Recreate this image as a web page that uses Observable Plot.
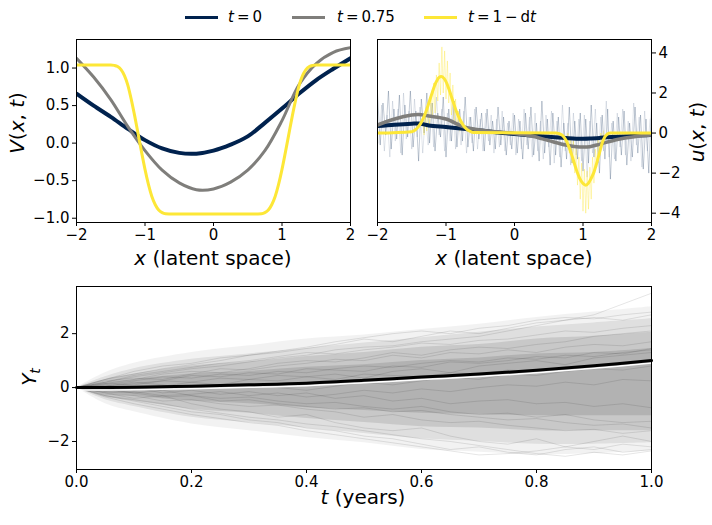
<!DOCTYPE html>
<html><head><meta charset="utf-8">
<script src="https://cdn.jsdelivr.net/npm/d3@7"></script>
<script src="https://cdn.jsdelivr.net/npm/@observablehq/plot@0.6"></script>
<style>
body{margin:0;background:#fff;font-family:"DejaVu Sans",sans-serif;}
#wrap{position:relative;width:712px;height:525px;overflow:hidden;background:#fff;}
.abs{position:absolute;}
.lbl{position:absolute;font-size:20px;line-height:1;white-space:nowrap;color:#000;transform:translate(-50%,-50%);}
.rot{transform:translate(-50%,-50%) rotate(-90deg);}
.leg{position:absolute;top:8px;font-size:15px;line-height:18px;white-space:nowrap;color:#000;}
.sw{position:absolute;height:3px;top:16px;}
</style></head><body><div id="wrap"></div>
<script>
// ---------- data ----------
const colT0 = "#00224e", colT75 = "#7f7e7b", colT1 = "#fde737";
const legendLabels = ["<i>t</i>\u2009=\u20090", "<i>t</i>\u2009=\u20090.75", "<i>t</i>\u2009=\u20091\u2009−\u2009d<i>t</i>"];

// V(x,t) panel
const vX   = [-2,-1.75,-1.5,-1.25,-1,-0.75,-0.5,-0.25,0,0.25,0.5,0.75,1,1.25,1.5,1.75,2];
const v0   = [0.66,0.50,0.35,0.19,0.04,-0.07,-0.13,-0.14,-0.10,-0.02,0.09,0.27,0.46,0.66,0.84,0.99,1.13];
const v75  = [1.13,0.88,0.58,0.22,-0.10,-0.36,-0.53,-0.62,-0.61,-0.52,-0.36,-0.10,0.30,0.78,1.06,1.21,1.27];
const v1X  = [-2,-1.5,-1.45,-1.4,-1.35,-1.3,-1.25,-1.2,-1.15,-1.1,-1.05,-1,-0.95,-0.9,-0.85,-0.8,-0.75,-0.7,-0.6,
              0.6,0.7,0.75,0.8,0.85,0.9,0.95,1,1.05,1.1,1.15,1.2,1.25,1.3,1.35,1.4,1.45,1.5,2];
const v1   = [1.04,1.04,1.035,1.02,0.98,0.90,0.77,0.58,0.36,0.12,-0.12,-0.35,-0.55,-0.71,-0.82,-0.89,-0.925,-0.94,-0.945,
              -0.945,-0.94,-0.925,-0.89,-0.82,-0.71,-0.55,-0.35,-0.12,0.12,0.36,0.58,0.77,0.90,0.98,1.02,1.035,1.04,1.04];

// u(x,t) panel – smooth curves
const uX   = [-2,-1.75,-1.5,-1.4,-1.25,-1,-0.75,-0.5,-0.25,0,0.25,0.5,0.75,0.9,1,1.1,1.25,1.5,1.75,2];
const u0   = [0.35,0.42,0.47,0.48,0.38,0.30,0.22,0.13,0.03,-0.05,-0.12,-0.19,-0.25,-0.28,-0.28,-0.27,-0.24,-0.18,-0.13,-0.10];
const u75  = [0.40,0.70,0.90,0.93,0.85,0.70,0.32,0.15,0.06,-0.02,-0.15,-0.38,-0.60,-0.68,-0.70,-0.68,-0.55,-0.32,-0.18,-0.10];
const u1X  = [-2,-1.5,-1.45,-1.4,-1.35,-1.3,-1.25,-1.2,-1.15,-1.1,-1.07,-1.03,-1,-0.95,-0.9,-0.85,-0.8,-0.75,-0.7,-0.65,-0.6,
              0.6,0.65,0.7,0.75,0.8,0.85,0.9,0.95,1,1.04,1.08,1.12,1.16,1.2,1.24,1.28,1.32,1.36,1.4,2];
const u1   = [0,0.07,0.15,0.33,0.6,1.0,1.5,2.03,2.5,2.78,2.82,2.73,2.57,2.12,1.6,1.1,0.7,0.4,0.2,0.09,0.03,
              0,-0.03,-0.12,-0.35,-0.75,-1.25,-1.8,-2.25,-2.52,-2.6,-2.5,-2.25,-1.95,-1.5,-1.0,-0.5,-0.18,-0.04,0,0];
// u(x,t) panel – noisy estimates
const u0Noise = [2.0,-0.6,1.5,-0.1,2.1,-0.8,1.2,-0.3,1.9,-1.1,
  1.4,-0.2,2.1,-0.7,1.1,-1.4,1.7,0.0,2.0,-0.5,
  1.5,-0.9,1.0,-0.2,1.8,-1.2,1.2,-0.4,1.6,-0.7,
  1.2,-0.4,1.8,-0.7,0.8,-0.9,1.3,-0.3,1.0,-0.9,
  1.2,-0.6,0.6,-0.8,1.3,-0.6,0.8,-1.1,0.6,-0.8,
  0.9,-1.0,0.6,-1.3,1.0,-0.8,1.3,-1.1,0.5,-1.4,
  1.6,-1.0,0.7,-1.6,1.0,-1.1,0.8,-1.7,0.5,-1.3,
  1.3,-1.5,0.6,-1.3,1.0,-1.9,0.7,-1.5,1.4,-1.2,
  0.5,-2.0,0.9,-1.3,1.2,-2.3,0.6,-1.4,0.8,-1.1,
  1.1,-1.6,0.5,-1.2,1.3,-1.0,0.9,-1.8,0.7,-2.0,1.3];
const u75Noise = [-0.5,1.4,-0.9,0.9,-1.2,1.6,-0.4,1.2,-1.0,2.0,
  -0.3,1.1,-0.8,1.7,-0.2,1.3,-1.0,0.9,-0.6,1.5,
  -0.7,1.8,-0.1,1.2,-0.9,1.0,-0.4,1.5,-0.8,0.9,
  -0.6,1.1,-1.0,0.8,-0.5,1.2,-0.8,0.7,-0.9,1.0,
  -0.4,0.9,-1.0,0.7,-0.7,1.1,-0.9,0.5,-0.6,1.0,
  -1.1,0.7,-0.8,1.2,-0.6,0.8,-1.2,1.0,-0.9,0.6,
  -1.3,0.9,-0.7,1.1,-1.5,0.6,-1.2,1.4,-0.9,0.5,
  -1.6,1.0,-1.1,0.7,-1.4,0.9,-2.2,0.6,-1.0,1.2,
  -1.5,0.8,-0.9,1.6,-1.2,0.5,-1.3,1.0,-0.7,1.2,
  -1.1,0.6,-1.4,1.5,-0.6,0.8,-1.7,1.1,-0.9,0.7];
const u1NoisePeak = [0.5,-0.1,0.9,0.1,1.4,0.4,1.8,0.8,2.5,1.0,2.9,1.6,3.5,1.9,4.3,2.0,4.1,1.7,3.6,1.5,3.0,0.9,2.4,0.6,1.7,0.2,1.1,0.1];
const u1NoiseDip  = [-0.6,0.0,-1.0,-0.2,-1.5,-0.4,-2.0,-0.8,-2.6,-1.2,-3.3,-1.5,-3.9,-1.8,-4.0,-1.9,-3.8,-1.7,-3.3,-1.2,-2.5,-0.8,-1.7,-0.3,-1.0,0.0,-0.5,0.1];

// Y_t panel: envelopes of the sample paths (outer to inner)
const bandT = [0,0.05,0.1,0.2,0.3,0.4,0.5,0.6,0.7,0.8,0.9,1.0];
const b1Hi = [0,0.55,0.9,1.3,1.55,1.8,1.95,2.15,2.35,2.6,2.8,3.0];
const b1Lo = [0,-0.6,-0.9,-1.35,-1.6,-1.85,-2.05,-2.3,-2.4,-2.5,-2.45,-2.35];
const b2Hi = [0,0.4,0.7,1.05,1.25,1.45,1.65,1.85,2.05,2.25,2.4,2.55];
const b2Lo = [0,-0.45,-0.7,-1.1,-1.3,-1.5,-1.7,-1.9,-2.0,-2.1,-2.1,-2.05];
const b3Hi = [0,0.3,0.5,0.8,0.95,1.15,1.3,1.5,1.6,1.8,1.9,2.05];
const b3Lo = [0,-0.35,-0.5,-0.8,-0.95,-1.15,-1.3,-1.45,-1.5,-1.6,-1.6,-1.6];
const b4Hi = [0,0.18,0.3,0.5,0.6,0.75,0.85,1.0,1.1,1.25,1.3,1.45];
const b4Lo = [0,-0.22,-0.32,-0.5,-0.6,-0.75,-0.85,-0.95,-1.0,-1.05,-1.05,-1.05];
const meanT = [0,0.1,0.2,0.3,0.4,0.5,0.6,0.7,0.8,0.9,1.0];
const meanY = [0,0.01,0.05,0.10,0.16,0.27,0.39,0.50,0.64,0.81,1.0];
const pathT = [0,0.05,0.1,0.15,0.2,0.25,0.3,0.35,0.4,0.45,0.5,0.55,0.6,0.65,0.7,0.75,0.8,0.85,0.9,0.95,1.0];
const pathsY = [
 [0,0.2,0.4,0.55,0.7,0.8,0.95,1.1,1.2,1.4,1.5,1.55,1.7,1.8,1.9,2.1,2.3,2.5,2.7,3.1,3.5],
 [0,0.3,0.6,0.8,0.9,1.1,1.2,1.3,1.45,1.6,1.8,1.7,1.9,2.1,2.0,2.2,2.4,2.5,2.6,2.5,2.7],
 [0,-0.3,-0.5,-0.7,-0.9,-1.0,-1.2,-1.3,-1.5,-1.6,-1.8,-1.9,-2.1,-2.3,-2.2,-2.4,-2.5,-2.3,-2.2,-2.4,-2.3],
 [0,-0.2,-0.4,-0.3,-0.6,-0.8,-0.9,-1.1,-1.0,-1.3,-1.5,-1.6,-1.5,-1.8,-2.0,-2.1,-1.9,-2.2,-2.0,-1.8,-2.0],
 [0,0.15,0.3,0.5,0.6,0.55,0.7,0.9,1.0,0.95,1.1,1.3,1.2,1.4,1.5,1.45,1.6,1.7,1.9,2.0,2.1],
 [0,0.1,-0.1,0.05,0.2,0.1,0.3,0.25,0.4,0.5,0.35,0.6,0.7,0.55,0.8,0.9,1.0,0.85,1.1,1.2,1.3],
 [0,-0.1,-0.2,-0.1,-0.3,-0.4,-0.35,-0.5,-0.6,-0.55,-0.7,-0.8,-0.7,-0.9,-1.0,-0.95,-1.1,-1.0,-1.2,-1.3,-1.25],
 [0,0.25,0.35,0.3,0.5,0.7,0.65,0.8,0.9,1.05,1.0,1.2,1.1,1.3,1.25,1.4,1.3,1.5,1.6,1.55,1.7],
 [0,-0.25,-0.3,-0.5,-0.45,-0.6,-0.7,-0.65,-0.8,-0.9,-1.1,-1.0,-1.2,-1.3,-1.25,-1.4,-1.5,-1.6,-1.55,-1.7,-1.6],
 [0,0.05,0.2,0.1,-0.05,0.1,0.15,0.0,-0.1,0.05,0.2,0.1,0.25,0.4,0.3,0.5,0.45,0.6,0.7,0.65,0.8],
 [0,-0.15,0.0,-0.2,-0.1,-0.25,-0.15,-0.3,-0.2,-0.4,-0.3,-0.5,-0.4,-0.6,-0.5,-0.45,-0.6,-0.55,-0.7,-0.6,-0.75],
 [0,0.2,0.45,0.6,0.75,0.9,1.0,1.15,1.3,1.25,1.4,1.5,1.65,1.6,1.75,1.8,1.95,2.1,2.05,2.2,2.3],
 [0,-0.3,-0.45,-0.6,-0.8,-0.95,-1.1,-1.2,-1.35,-1.45,-1.6,-1.75,-1.9,-2.0,-2.15,-2.3,-2.45,-2.55,-2.4,-2.5,-2.35],
 [0,0.1,0.25,0.4,0.35,0.5,0.45,0.6,0.55,0.7,0.8,0.75,0.9,1.0,0.95,1.1,1.05,1.2,1.15,1.3,1.4],
 [0,-0.05,-0.2,-0.35,-0.3,-0.5,-0.45,-0.6,-0.7,-0.8,-0.75,-0.9,-0.85,-1.0,-1.1,-1.2,-1.15,-1.3,-1.4,-1.35,-1.5],
 [0,0.15,0.1,0.25,0.2,0.35,0.3,0.45,0.4,0.3,0.5,0.45,0.4,0.55,0.5,0.65,0.6,0.75,0.7,0.85,0.9],
 [0,-0.2,-0.15,-0.3,-0.25,-0.15,-0.3,-0.2,-0.35,-0.25,-0.1,-0.2,-0.05,-0.15,0.0,0.1,0.05,0.2,0.1,0.3,0.25],
 [0,0.3,0.5,0.7,0.85,1.0,1.2,1.35,1.5,1.7,1.85,2.0,2.1,2.0,2.2,2.3,2.5,2.6,2.55,2.7,2.8],
 [0,-0.35,-0.6,-0.8,-1.0,-1.15,-1.3,-1.4,-1.6,-1.75,-1.9,-2.05,-2.2,-2.35,-2.5,-2.45,-2.35,-2.2,-2.3,-2.1,-2.2],
 [0,0.05,0.15,0.25,0.45,0.4,0.55,0.5,0.7,0.65,0.6,0.8,0.75,0.95,0.9,1.0,1.15,1.1,1.3,1.25,1.45]
];

// ---------- helpers ----------
const wrap = document.getElementById("wrap");
const zip = (xs, ys) => xs.map((x, i) => ({x, y: ys[i]}));
const place = (node, left, top) => { node.classList.add("abs"); node.style.left = left + "px"; node.style.top = top + "px"; wrap.appendChild(node); };
const label = (html, cx, cy, rot) => { const d = document.createElement("div"); d.className = "lbl" + (rot ? " rot" : ""); d.innerHTML = html; d.style.left = cx + "px"; d.style.top = cy + "px"; wrap.appendChild(d); };
const baseStyle = {fontFamily: "DejaVu Sans", fontSize: "15px", color: "#000", background: "transparent", overflow: "visible"};
const ax = {tickSize: 4, tickPadding: 3, fontSize: 15, label: null, stroke: "#000"};
const fmtInt = d3.format("d"), fmt1 = d3.format(".1f");

// ---------- top-left: V(x,t) ----------
const pV = Plot.plot({
  width: 360, height: 270, marginLeft: 76, marginRight: 10, marginTop: 39, marginBottom: 48,
  style: baseStyle,
  x: {domain: [-2, 2]}, y: {domain: [-1.057, 1.38]},
  marks: [
    Plot.line(zip(vX, v0), {x: "x", y: "y", stroke: colT0, strokeWidth: 4, curve: "catmull-rom", clip: true}),
    Plot.line(zip(vX, v75), {x: "x", y: "y", stroke: colT75, strokeWidth: 3, curve: "catmull-rom", clip: true}),
    Plot.line(zip(v1X, v1), {x: "x", y: "y", stroke: colT1, strokeWidth: 3, curve: "monotone-x", clip: true}),
    Plot.axisX({...ax, ticks: [-2, -1, 0, 1, 2], tickFormat: fmtInt}),
    Plot.axisY({...ax, ticks: [-1, -0.5, 0, 0.5, 1], tickFormat: fmt1}),
    Plot.frame({stroke: "#000"})
  ]
});
place(pV, 0, 0);

// ---------- top-right: u(x,t) ----------
const gridA = d3.range(0, u0Noise.length).map(i => -2 + 0.04 * i);
const gridB = d3.range(0, u75Noise.length).map(i => -1.98 + 0.04 * i);
const gridP = d3.range(0, u1NoisePeak.length).map(i => -1.34 + 0.02 * i);
const gridD = d3.range(0, u1NoiseDip.length).map(i => 0.76 + 0.02 * i);
const pU = Plot.plot({
  width: 352, height: 270, marginLeft: 17, marginRight: 61, marginTop: 39, marginBottom: 48,
  style: baseStyle,
  x: {domain: [-2, 2]}, y: {domain: [-4.465, 4.67]},
  marks: [
    Plot.line(zip(gridA, u0Noise), {x: "x", y: "y", stroke: colT0, strokeOpacity: 0.26, strokeWidth: 0.9, clip: true}),
    Plot.line(zip(gridB, u75Noise), {x: "x", y: "y", stroke: "#6f84a0", strokeOpacity: 0.24, strokeWidth: 0.9, clip: true}),
    Plot.line(zip(gridP, u1NoisePeak), {x: "x", y: "y", stroke: colT1, strokeOpacity: 0.4, strokeWidth: 0.9, clip: true}),
    Plot.line(zip(gridD, u1NoiseDip), {x: "x", y: "y", stroke: colT1, strokeOpacity: 0.4, strokeWidth: 0.9, clip: true}),
    Plot.line(zip(uX, u0), {x: "x", y: "y", stroke: colT0, strokeWidth: 4, curve: "catmull-rom", clip: true}),
    Plot.line(zip(uX, u75), {x: "x", y: "y", stroke: colT75, strokeWidth: 3.5, curve: "catmull-rom", clip: true}),
    Plot.line(zip(u1X, u1), {x: "x", y: "y", stroke: colT1, strokeWidth: 3, curve: "monotone-x", clip: true}),
    Plot.axisX({...ax, ticks: [-2, -1, 0, 1, 2], tickFormat: fmtInt}),
    Plot.axisY({...ax, anchor: "right", ticks: [-4, -2, 0, 2, 4], tickFormat: fmtInt}),
    Plot.frame({stroke: "#000"})
  ]
});
place(pU, 360, 0);

// ---------- bottom: Y_t ----------
const bandData = bandT.map((t, i) => ({t, h1: b1Hi[i], l1: b1Lo[i], h2: b2Hi[i], l2: b2Lo[i], h3: b3Hi[i], l3: b3Lo[i], h4: b4Hi[i], l4: b4Lo[i]}));
const pathData = pathsY.flatMap((ys, k) => ys.map((y, i) => ({t: pathT[i], y, k})));
const meanData = meanT.map((t, i) => ({t, y: meanY[i]}));
const band = (lo, hi, op) => Plot.areaY(bandData, {x: "t", y1: lo, y2: hi, fill: "#000", fillOpacity: op, curve: "catmull-rom"});
const pY = Plot.plot({
  width: 712, height: 255, marginLeft: 76, marginRight: 61, marginTop: 16, marginBottom: 56,
  style: baseStyle,
  x: {domain: [0, 1]}, y: {domain: [-3.04, 3.75]},
  marks: [
    band("l1", "h1", 0.05),
    band("l2", "h2", 0.08),
    band("l3", "h3", 0.1),
    band("l4", "h4", 0.11),
    Plot.line(pathData, {x: "t", y: "y", z: "k", stroke: "#000", strokeOpacity: 0.1, strokeWidth: 1, clip: true}),
    Plot.line(meanData, {x: "t", y: "y", stroke: "#fff", strokeWidth: 1.5, dy: 2.5, curve: "catmull-rom"}),
    Plot.line(meanData, {x: "t", y: "y", stroke: "#000", strokeWidth: 3, curve: "catmull-rom"}),
    Plot.axisX({...ax, ticks: [0, 0.2, 0.4, 0.6, 0.8, 1.0], tickFormat: fmt1}),
    Plot.axisY({...ax, ticks: [-2, 0, 2], tickFormat: fmtInt}),
    Plot.frame({stroke: "#000"})
  ]
});
place(pY, 0, 270);

// ---------- text labels ----------
label("<i>x</i> (latent space)", 213, 258);
label("<i>x</i> (latent space)", 514, 258);
label("<i>V</i>(<i>x</i>, <i>t</i>)", 17, 123, true);
label("<i>u</i>(<i>x</i>, <i>t</i>)", 697, 132, true);
label("<i>t</i> (years)", 363, 497);
label("<i>Y<sub style='font-size:14px;vertical-align:-4px'>t</sub></i>", 30, 377, true);

// ---------- legend ----------
const swX = [185, 292, 424], txX = [228, 337, 468], cols = [colT0, colT75, colT1];
legendLabels.forEach((s, i) => {
  const sw = document.createElement("div"); sw.className = "sw"; sw.style.left = swX[i] + "px"; sw.style.width = "33px"; sw.style.background = cols[i]; wrap.appendChild(sw);
  const tx = document.createElement("div"); tx.className = "leg"; tx.style.left = txX[i] + "px"; tx.innerHTML = s; wrap.appendChild(tx);
});
</script></body></html>
